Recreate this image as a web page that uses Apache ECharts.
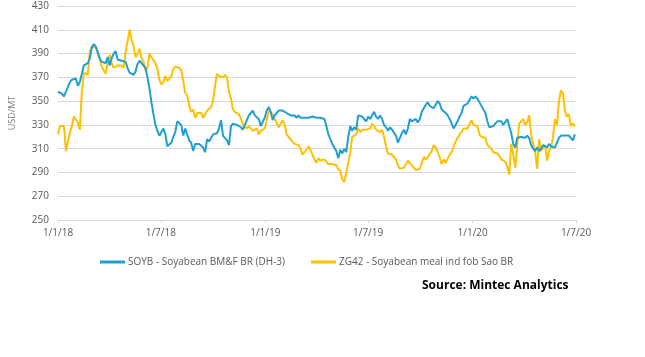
<!DOCTYPE html>
<html>
<head>
<meta charset="utf-8">
<script src="https://cdn.jsdelivr.net/npm/echarts@6/dist/echarts.min.js"></script>
<style>
html,body{margin:0;padding:0;background:#fff;}
#chart{width:645px;height:357px;}
</style>
</head>
<body>
<div id="chart"></div>
<script>
// Twice-weekly observations starting 1 Jan 2018
const startDate = [2018, 0, 1];
const stepDays = 3.5;
const seriesNames = ['SOYB - Soyabean BM&F BR (DH-3)', 'ZG42 - Soyabean meal ind fob Sao BR'];
const soybValues = [
  358,357,356,354,358,362,366,368,369,369,363,366,365,380,381,382,386,395,398,396,391,386,383,383,382,387,380,386,390,392,385,386,384,385,383,378,374,375,372,375,381,384,382,
  381,378,370,361,349,339,330,325,321,320,327,322,312,311,315,320,324,333,333,330,321,327,326,317,315,308,314,314,314,315,311,307,318,316,319,322,323,323,327,334,321,322,
  317,313,329,331,330,330,331,328,326,327,334,338,340,342,338,339,335,329,329,336,342,345,341,334,338,340,342,343,342,343,340,339,338,338,338,336,338,336,336,336,336,336,
  337,337,337,336,337,336,335,335,329,322,318,314,311,308,302,309,306,310,307,320,329,325,328,326,338,338,337,337,333,337,335,336,341,337,335,338,335,330,328,325,328,326,
  325,321,315,319,323,326,322,327,335,333,332,335,332,335,341,342,347,349,346,347,344,345,350,348,343,342,340,338,335,331,327,330,333,337,340,346,346,348,349,354,352,354,
  352,352,346,346,340,333,328,328,329,331,333,332,333,330,330,335,329,323,314,311,319,320,320,319,319,321,319,313,310,308,311,308,310,313,313,311,314,312,311,311,315,319,321,321,321,322,321,320,317,322
];
const zg42Values = [
  322,329,329,329,308,307,324,329,337,337,332,326,358,374,375,372,392,396,397,395,391,390,379,376,373,383,389,382,378,379,380,381,380,378,391,390,410,402,396,387,390,394,386,
  383,376,378,390,387,386,382,377,368,364,366,371,367,366,371,377,379,380,378,376,367,357,355,346,341,343,336,340,339,340,336,339,342,342,345,350,363,373,371,371,370,372,
  370,358,352,343,341,341,339,335,330,329,327,329,328,325,324,327,322,325,324,327,334,342,343,339,335,332,328,331,334,330,322,320,319,316,314,315,313,310,305,307,309,312,
  309,305,301,298,302,300,299,301,299,297,296,297,296,296,293,291,284,282,290,298,307,320,321,322,327,324,326,326,326,327,327,331,329,326,327,324,326,320,312,306,306,305,
  303,301,296,293,293,294,297,300,299,296,294,292,293,293,298,303,301,303,302,308,313,311,311,303,297,301,298,297,305,307,308,316,319,322,324,327,328,327,327,334,330,329,
  329,322,320,321,319,313,313,310,307,308,306,304,301,301,299,295,288,314,305,294,312,331,330,335,330,332,338,322,314,308,293,318,308,309,313,300,308,311,320,335,330,350,359,357,342,337,339,329,331,329
];
const xTickDates = [[2018,0,1],[2018,6,1],[2019,0,1],[2019,6,1],[2020,0,1],[2020,6,1]];
const yMin = 250, yMax = 430, yStep = 20;
const sourceText = 'Source: Mintec Analytics';
const yAxisTitle = 'USD/MT';

const DAY = 86400000;
const startMs = Date.UTC(startDate[0], startDate[1], startDate[2]);
function dateAt(i){ return startMs + i*stepDays*DAY; }
const soybData = soybValues.map((v,i)=>[dateAt(i), v]);
const zg42Data = zg42Values.map((v,i)=>[dateAt(i), v]);
const tickTimes = xTickDates.map(d=>Date.UTC(d[0],d[1],d[2]));

const chart = echarts.init(document.getElementById('chart'), null, {renderer:'canvas'});
const fontFam = '"Open Sans", "Noto Sans", sans-serif';
chart.setOption({
  animation:false,
  backgroundColor:'#ffffff',
  grid:{left:49, right:69, top:6, bottom:137},
  xAxis:{
    type:'value',
    min:tickTimes[0], max:tickTimes[tickTimes.length-1],
    axisLine:{show:true, lineStyle:{color:'#d9d9d9', width:1}},
    axisTick:{show:true, customValues:tickTimes, length:3, lineStyle:{color:'#d9d9d9'}},
    axisLabel:{customValues:tickTimes, color:'#595959', fontSize:10, fontFamily:fontFam, margin:8,
      formatter:function(v){const d=new Date(v);return d.getUTCDate()+'/'+(d.getUTCMonth()+1)+'/'+String(d.getUTCFullYear()).slice(2);}},
    splitLine:{show:false}
  },
  yAxis:{
    type:'value', min:yMin, max:yMax, interval:yStep,
    name:yAxisTitle, nameLocation:'middle', nameRotate:90, nameGap:41,
    nameTextStyle:{color:'#7f7f7f', fontSize:9, fontFamily:fontFam},
    axisLine:{show:false}, axisTick:{show:false},
    axisLabel:{color:'#595959', fontSize:10, fontFamily:fontFam, margin:9},
    splitLine:{lineStyle:{color:'#d9d9d9', width:1}}
  },
  legend:{
    left:95, top:252, itemWidth:25, itemHeight:3, itemGap:26, icon:'rect',
    textStyle:{color:'#595959', fontSize:10, fontFamily:fontFam, padding:[0,0,0,-2]},
    data:seriesNames
  },
  series:[
    {name:seriesNames[0], type:'line', data:soybData, showSymbol:false, symbol:'none',
     lineStyle:{color:'#1f9fd2', width:2}, itemStyle:{color:'#1f9fd2'}, z:3},
    {name:seriesNames[1], type:'line', data:zg42Data, showSymbol:false, symbol:'none',
     lineStyle:{color:'#ffc000', width:2}, itemStyle:{color:'#ffc000'}, z:2}
  ],
  graphic:[{type:'text', left:422, top:280,
    style:{text:sourceText, fill:'#000000', font:'bold 12px "Open Sans", "Noto Sans", sans-serif'}}]
});
</script>
</body>
</html>
